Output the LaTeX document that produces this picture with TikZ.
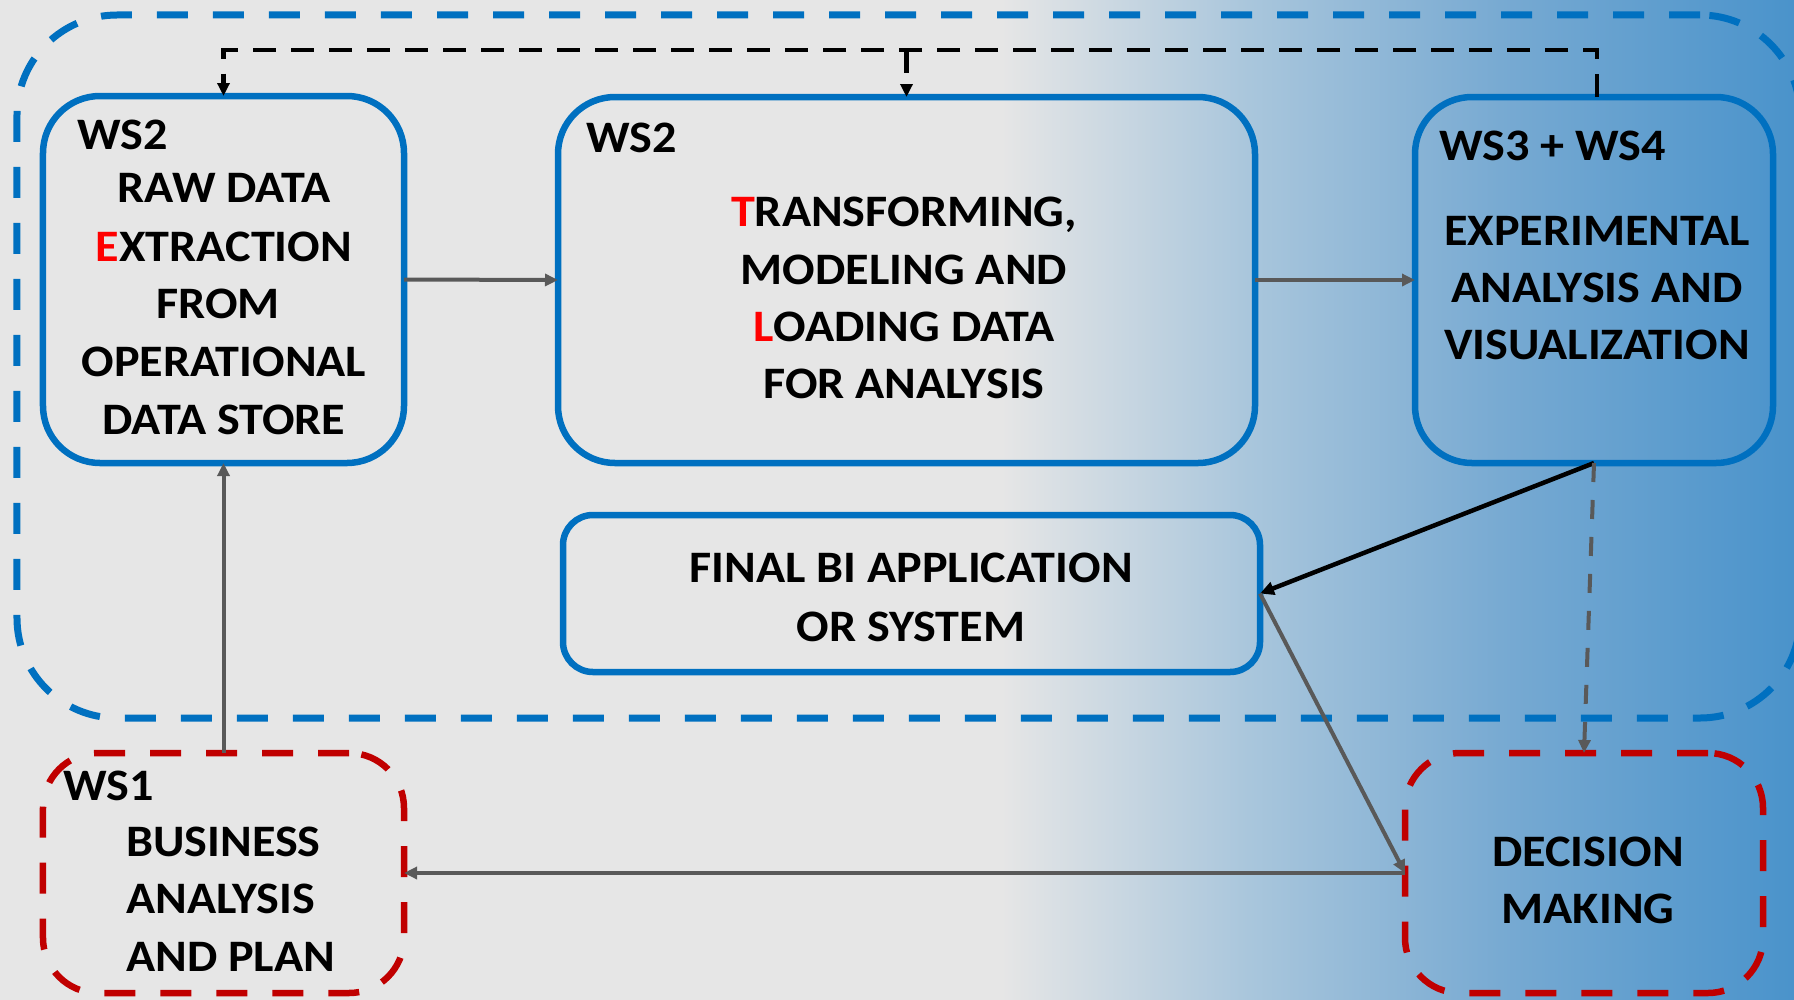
\documentclass[tikz,border=0pt]{standalone}
\usepackage{fontspec}
\setmainfont{Carlito}
\usetikzlibrary{arrows.meta,calc}
\definecolor{bgA}{HTML}{E6E6E6}
\definecolor{bgB}{HTML}{A9C6DC}
\definecolor{bgC}{HTML}{78AAD2}
\definecolor{bgD}{HTML}{4A93CB}
\definecolor{mblue}{HTML}{0070C0}
\definecolor{mred}{HTML}{C00000}
\definecolor{mgray}{HTML}{595959}
\pgfdeclarehorizontalshading{bgshade}{100bp}{color(0bp)=(bgA); color(52.9bp)=(bgA); color(59.8bp)=(bgB); color(66.8bp)=(bgC); color(75bp)=(bgD); color(100bp)=(bgD)}
\newcommand{\wx}[1]{\scalebox{1.07}[1]{#1}}
\begin{document}
\begin{tikzpicture}[x=1bp,y=-1bp,
  txt/.style={font=\bfseries\fontsize{45bp}{54bp}\selectfont, inner sep=0pt, anchor=base},
  txtl/.style={txt, anchor=base west},
  solidbox/.style={draw=mblue, line width=6.5bp, rounded corners=57bp, inner sep=0pt, outer sep=0pt},
  redbox/.style={draw=mred, line width=6.5bp, rounded corners=55bp, inner sep=0pt, outer sep=0pt, dash pattern=on 31bp off 25bp},
  framebox/.style={draw=mblue, line width=7bp, rounded corners=100bp, inner sep=0pt, outer sep=0pt, dash pattern=on 31bp off 25bp},
  garrow/.style={draw=mgray, line width=4bp, -{Triangle[length=13bp,width=12bp]}},
  barrow/.style={draw=black, line width=4.5bp, -{Triangle[length=14bp,width=13bp]}},
  bdash/.style={draw=black, line width=4.5bp, dash pattern=on 23bp off 15bp, -{Triangle[length=13bp,width=12bp]}},
  gdash/.style={draw=mgray, line width=4bp, dash pattern=on 19bp off 18bp, -{Triangle[length=13bp,width=12bp]}}
]
\useasboundingbox (0,0) rectangle (1794,999);
\shade[shading=bgshade] (0,0) rectangle (1794,999);

% frame
\node[framebox, minimum width=1783bp, minimum height=703bp] (frame) at (908.5,366.5) {};

% boxes
\node[solidbox, minimum width=361bp, minimum height=367bp] (b1) at (223.5,279.5) {};
\node[solidbox, minimum width=697bp, minimum height=366bp] (b2) at (906.5,280) {};
\node[solidbox, minimum width=358bp, minimum height=366bp] (b3) at (1594,280) {};
\node[solidbox, rounded corners=30bp, minimum width=697bp, minimum height=157bp] (b4) at (911.5,593.5) {};
\node[redbox, minimum width=361bp, minimum height=240bp] (ws1) at (223.5,873) {};
\node[redbox, minimum width=358bp, minimum height=240bp] (dm) at (1584,873) {};

% connectors
\coordinate (top3) at ($(b3.north)+(3,0)$);
\coordinate (topL) at (top3 |- 0,50);
\draw[bdash] (top3) -- (topL) -| (b1.north);
\draw[bdash] (b2.north |- 0,50) -- (b2.north);
\draw[garrow] (b1.east) -- (b2.west);
\draw[garrow] (b2.east) -- (b3.west);
\draw[garrow] (ws1.north) -- (b1.south);
\draw[barrow] (b3.south) -- (b4.east);
\draw[garrow] (b4.east) -- (dm.west);
\draw[garrow] (dm.west) -- (ws1.east);
\draw[gdash] (b3.south) -- (dm.north);

% texts box1
\node[txtl] (t1h) at (77,149) {\wx{WS2}};
\node[txt] (t1a) at (224,202.5) {\wx{RAW DATA}};
\node[txt] (t1b) at (224,261) {\wx{\textcolor{red}{E}XTRACTION}};
\node[txt] (t1c) at (218,318) {\wx{FROM}};
\node[txt] (t1d) at (224,376) {\wx{OPERATIONAL}};
\node[txt] (t1e) at (224,434) {\wx{DATA STORE}};
% box2
\node[txtl] (t2h) at (586,152) {\wx{WS2}};
\node[txt] (t2a) at (904,226.5) {\wx{\textcolor{red}{T}RANSFORMING,}};
\node[txt] (t2b) at (904,284) {\wx{MODELING AND}};
\node[txt] (t2c) at (904,341) {\wx{\textcolor{red}{L}OADING DATA}};
\node[txt] (t2d) at (904,398) {\wx{FOR ANALYSIS}};
% box3
\node[txtl] (t3h) at (1439,160) {\wx{WS3 + WS4}};
\node[txt] (t3a) at (1597,245) {\wx{EXPERIMENTAL}};
\node[txt] (t3b) at (1597,302) {\wx{ANALYSIS AND}};
\node[txt] (t3c) at (1597,359) {\wx{VISUALIZATION}};
% box4
\node[txt] (t4a) at (911,582) {\wx{FINAL BI APPLICATION}};
\node[txt] (t4b) at (911,641) {\wx{OR SYSTEM}};
% ws1
\node[txtl] (t5h) at (63,800) {\wx{WS1}};
\node[txtl] (t5a) at (126,856) {\wx{BUSINESS}};
\node[txtl] (t5b) at (126,913) {\wx{ANALYSIS}};
\node[txtl] (t5c) at (126,971) {\wx{AND PLAN}};
% decision
\node[txt] (t6a) at (1588,866) {\wx{DECISION}};
\node[txt] (t6b) at (1588,923) {\wx{MAKING}};
\end{tikzpicture}
\end{document}
